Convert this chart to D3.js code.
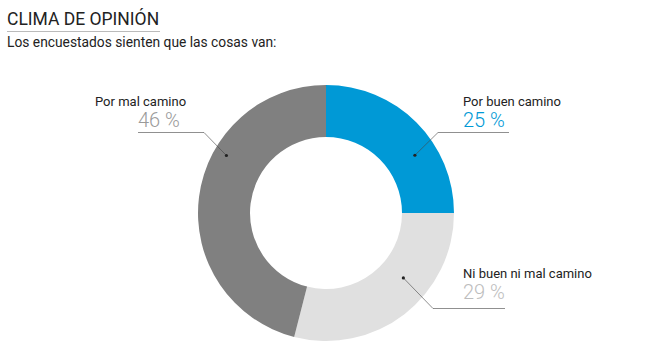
<!DOCTYPE html>
<html><head><meta charset="utf-8">
<script src="https://cdn.jsdelivr.net/npm/d3@7"></script>
<style>body{margin:0;background:#fff;font-family:Roboto,sans-serif}</style>
</head><body>
<svg id="c" width="648" height="360"></svg>
<script>
const categories = ["Por buen camino", "Ni buen ni mal camino", "Por mal camino"];
const values = [25, 29, 46];
const colors = ["#0099d6", "#e0e0e0", "#808080"];
const valueColors = ["#0099d6", "#bdbdbd", "#9a9a9a"];
// label annotation anchors: angle (deg, clockwise from top) and radius of dot
const dotAngles = [57, 130, 300];
const dotRadii = [106, 101, 115];

const svg = d3.select("#c");
const cx = 326, cy = 213, R = 128, r0 = 76;

svg.append("text").attr("x", 7).attr("y", 25).attr("font-size", 17.5).attr("fill", "#222")
  .attr("font-family", "Roboto").text("CLIMA DE OPINIÓN");
svg.append("line").attr("x1", 7).attr("x2", 160).attr("y1", 31.5).attr("y2", 31.5)
  .attr("stroke", "#bbb").attr("stroke-width", 1);
svg.append("text").attr("x", 7).attr("y", 47).attr("font-size", 13.8).attr("fill", "#222")
  .text("Los encuestados sienten que las cosas van:");

const pie = d3.pie().sort(null).value(d => d)(values);
const arc = d3.arc().innerRadius(r0).outerRadius(R);
const g = svg.append("g").attr("transform", `translate(${cx},${cy})`);
g.selectAll("path").data(pie).join("path").attr("d", arc).attr("fill", (d, i) => colors[i]);

const layout = [
  {side: 1, tx: 463, ny: 106, ly: 132.5, lx2: 509, elbow: 438},
  {side: 1, tx: 463, ny: 278, ly: 308.5, lx2: 505, elbow: 433},
  {side: -1, tx: 95, ny: 106, ly: 132.5, lx2: 138, elbow: 204}
];
const ann = svg.append("g");
categories.forEach((c, i) => {
  const a = dotAngles[i] * Math.PI / 180;
  const dx = cx + dotRadii[i] * Math.sin(a), dy = cy - dotRadii[i] * Math.cos(a);
  const L = layout[i];
  ann.append("polyline").attr("points", `${dx},${dy} ${L.elbow},${L.ly} ${L.lx2},${L.ly}`)
    .attr("fill", "none").attr("stroke", "#444").attr("stroke-width", 0.6);
  ann.append("circle").attr("cx", dx).attr("cy", dy).attr("r", 1.6).attr("fill", "#222");
  const vx = L.side === 1 ? L.tx : L.lx2;
  ann.append("text").attr("x", L.tx).attr("y", L.ny).attr("font-size", 13).attr("fill", "#222").text(c);
  ann.append("text").attr("x", vx).attr("y", L.ny + 20.5).attr("font-size", 20).attr("font-weight", 300)
    .attr("fill", valueColors[i]).text(values[i] + " %");
});
</script>
</body></html>
